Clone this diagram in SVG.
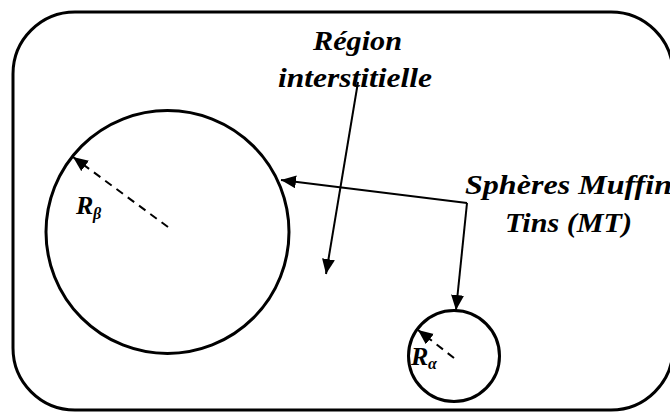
<svg xmlns="http://www.w3.org/2000/svg" width="670" height="412" viewBox="0 0 670 412">
<defs>
<marker id="ah" markerUnits="userSpaceOnUse" markerWidth="16" markerHeight="14" refX="15" refY="6.5" orient="auto">
<path d="M0,0 L15,6.5 L0,13 z" fill="#000"/>
</marker>
<style>
.t{font-family:"Liberation Serif","Times New Roman",serif;font-weight:bold;font-style:italic;font-size:27px;fill:#000}
.r{font-family:"Liberation Serif","Times New Roman",serif;font-weight:bold;font-style:italic;font-size:26px;fill:#000}
.s{font-family:"Liberation Serif","Times New Roman",serif;font-weight:bold;font-style:italic;font-size:16px;fill:#000}
.shape{fill:none;stroke:#000;stroke-width:3}
.conn{fill:none;stroke:#000;stroke-width:2}
.dash{fill:none;stroke:#000;stroke-width:2;stroke-dasharray:8,6}
</style>
</defs>
<rect width="670" height="412" fill="#fff"/>
<g id="frame"><rect class="shape" x="13" y="12" width="660" height="398" rx="62" ry="62"/></g>
<g id="sphere-beta">
<circle class="shape" cx="167.5" cy="232" r="121.5"/>
<line class="dash" x1="168" y1="227" x2="73" y2="157" marker-end="url(#ah)"/>
<text class="r" x="76" y="214">R</text><text class="s" x="93" y="219">β</text>
</g>
<g id="sphere-alpha">
<circle class="shape" cx="454" cy="356" r="45.5"/>
<line class="dash" x1="454" y1="358" x2="418" y2="330" marker-end="url(#ah)"/>
<text class="r" x="411" y="365">R</text><text class="s" x="428" y="369">α</text>
</g>
<g id="label-region">
<text class="t" x="313" y="50" textLength="89" lengthAdjust="spacingAndGlyphs">Région</text>
<text class="t" x="278" y="87" textLength="154" lengthAdjust="spacingAndGlyphs">interstitielle</text>
</g>
<g id="label-mt">
<text class="t" x="465" y="194" textLength="207" lengthAdjust="spacingAndGlyphs">Sphères Muffin</text>
<text class="t" x="505" y="232" textLength="127" lengthAdjust="spacingAndGlyphs">Tins (MT)</text>
</g>
<g id="connectors">
<line class="conn" x1="358" y1="82" x2="326" y2="274" marker-end="url(#ah)"/>
<line class="conn" x1="467" y1="203" x2="281" y2="180" marker-end="url(#ah)"/>
<line class="conn" x1="467" y1="203" x2="456" y2="310" marker-end="url(#ah)"/>
</g>
</svg>
